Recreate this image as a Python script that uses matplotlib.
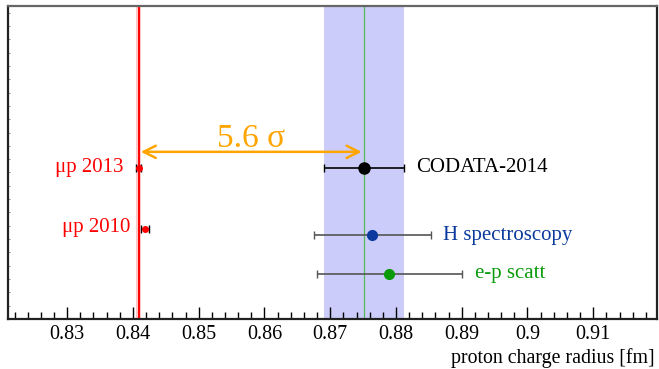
import numpy as np
import matplotlib
matplotlib.use('Agg')
import matplotlib.pyplot as plt
from matplotlib.ticker import MultipleLocator

plt.rcParams['font.family'] = ['Liberation Serif', 'DejaVu Serif']

## measurements (radius in fm, error in fm, vertical position)
labels = ['\u03bcp 2013', '\u03bcp 2010', 'CODATA-2014', 'H spectroscopy', 'e-p scatt']
radius = [0.84087, 0.84184, 0.8751, 0.8764, 0.8790]
error = [0.00039, 0.00067, 0.0061, 0.0089, 0.0110]
ypos = [11.35, 6.75, 11.35, 6.3, 3.4]
colors = ['red', 'red', 'black', '#0a3a9e', '#0a9a0a']
barcol = ['black', 'black', 'black', '#555555', '#555555']
msize = [4, 4, 8, 7, 7]

muon_r, muon_e = 0.84087, 0.00039
codata_r, codata_e = 0.8751, 0.0061
nsigma = 5.6

fig = plt.figure(figsize=(6.59, 3.69), dpi=100)
ax = fig.add_axes([8/659, 50/369, 649/659, 313/369])

## bands
ax.axvspan(codata_r-codata_e, codata_r+codata_e, color='#ccccfa', lw=0, zorder=0)
ax.axvline(codata_r, color='#55bb55', lw=0.9, zorder=1)
ax.axvspan(muon_r-muon_e, muon_r+muon_e, color='#ffc8c8', lw=0, zorder=0)
ax.axvline(muon_r, color='red', lw=1.4, zorder=1)

## points
for i in range(len(labels)):
    ax.errorbar(radius[i], ypos[i], xerr=error[i], fmt='o', color=colors[i],
                ecolor=barcol[i], elinewidth=1.2, capsize=3, capthick=1,
                ms=msize[i], zorder=3)

## labels
fs = 15
ax.text(radius[0]-0.0023, ypos[0], labels[0], color='red', fontsize=fs,
        ha='right', va='center')
ax.text(radius[1]-0.0022, ypos[1]+0.15, labels[1], color='red', fontsize=fs,
        ha='right', va='center')
ax.text(radius[2]+0.0080, ypos[2], labels[2], color='black', fontsize=fs,
        ha='left', va='center')
ax.text(radius[3]+0.0108, ypos[3], labels[3], color=colors[3], fontsize=fs,
        ha='left', va='center')
ax.text(radius[4]+0.0130, ypos[4], labels[4], color=colors[4], fontsize=fs,
        ha='left', va='center')

## arrow
ax.annotate('', xy=(muon_r-0.0001, 12.55), xytext=(codata_r+0.0001, 12.55),
            arrowprops=dict(arrowstyle='<->', color='#ffa500', lw=1.8,
                            mutation_scale=22))
ax.text((muon_r+codata_r)/2, 12.4, '%.1f \u03c3' % nsigma, color='#ffa500',
        fontsize=24, ha='center', va='bottom')

ax.set_xlim(0.821, 0.9197)
ax.set_ylim(0, 23.5)
ax.xaxis.set_major_locator(MultipleLocator(0.01))
ax.xaxis.set_minor_locator(MultipleLocator(0.002))
ax.yaxis.set_minor_locator(MultipleLocator(1))
ax.set_yticks([])
ax.tick_params(axis='x', which='major', direction='in', length=9, width=1,
               labelsize=14.5, pad=4, top=False)
ax.tick_params(axis='x', which='minor', direction='in', length=5, width=1, top=False)
ax.tick_params(axis='y', which='minor', direction='in', length=1.2, width=0.6,
               right=False, color='#777777')
ax.set_xticklabels(['%g' % v for v in ax.get_xticks()])

for s in ['left', 'bottom', 'right']:
    ax.spines[s].set_color('#222222')
    ax.spines[s].set_linewidth(1.6)
ax.spines['top'].set_color('#666666')
ax.spines['top'].set_linewidth(1.6)

fig.text(655/659, 1-358/369, 'proton charge radius [fm]', fontsize=14.3,
         ha='right', va='center')

fig.savefig('out.png', dpi=100)
